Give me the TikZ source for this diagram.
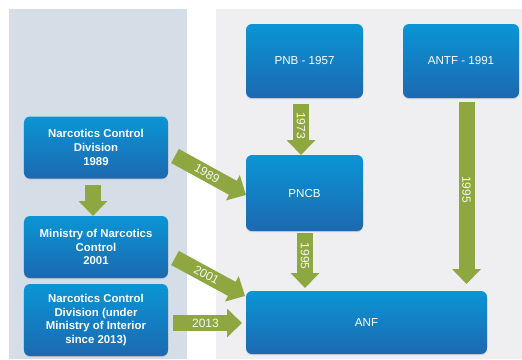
\documentclass[tikz,border=0pt]{standalone}
\usepackage{fontspec}
\setmainfont{Liberation Sans}
\usetikzlibrary{arrows.meta,shadows}
\definecolor{leftbg}{HTML}{D5DDE7}
\definecolor{rightbg}{HTML}{EFEEF1}
\definecolor{boxtop}{HTML}{0A95D5}
\definecolor{boxbot}{HTML}{1D69B0}
\definecolor{agreen}{HTML}{8FA741}
\tikzset{
  bbox/.style={rounded corners=6bp, top color=boxtop, bottom color=boxbot,
    text=white, align=center, inner sep=2bp,
    drop shadow={shadow xshift=0bp, shadow yshift=-1.2bp, opacity=0.25},
    font=\fontsize{11.6bp}{13.8bp}\selectfont},
  bboxb/.style={bbox, font=\fontsize{11.4bp}{13.8bp}\selectfont\bfseries},
  garrow/.style={draw=agreen, line width=16bp, -{Triangle[length=15bp, width=28bp]}},
  alabel/.style={text=white!92!agreen, font=\fontsize{12bp}{12bp}\selectfont, inner sep=0bp}
}
\begin{document}
\begin{tikzpicture}[x=1bp, y=-1bp]
\useasboundingbox (0,0) rectangle (522,359);
\fill[white] (0,0) rectangle (522,359);
\fill[leftbg] (9,9) rectangle (187,359);
\fill[rightbg] (216,9) rectangle (522,359);

\node[bboxb, minimum width=144bp, minimum height=62bp] (ncd) at (96,147.5) {Narcotics Control\\Division\\1989};
\node[bboxb, minimum width=144bp, minimum height=62bp] (min) at (96,247) {Ministry of Narcotics\\Control\\2001};
\node[bboxb, minimum width=144bp, minimum height=72bp] (moi) at (96,320) {Narcotics Control\\Division (under\\Ministry of Interior\\since 2013)};
\node[bbox, minimum width=117bp, minimum height=74bp] (pnb) at (304.5,61) {PNB - 1957};
\node[bbox, minimum width=116bp, minimum height=74bp] (antf) at (461,61) {ANTF - 1991};
\node[bbox, minimum width=117bp, minimum height=76bp] (pncb) at (304.5,193) {PNCB};
\node[bbox, minimum width=241bp, minimum height=63bp] (anf) at (366.5,322.5) {ANF};

\coordinate (c1a) at (93,185);
\coordinate (c1b) at (93,216);
\draw[garrow] (c1a) -- (c1b);

\coordinate (c2a) at (301,104);
\coordinate (c2b) at (301,155);
\draw[garrow] (c2a) -- node[alabel, sloped, pos=0.42] {1973} (c2b);

\coordinate (c3a) at (305,233);
\coordinate (c3b) at (305,288);
\draw[garrow] (c3a) -- node[alabel, sloped, pos=0.42] {1995} (c3b);

\coordinate (c4a) at (466.5,102);
\coordinate (c4b) at (466.5,284);
\draw[garrow] (c4a) -- node[alabel, sloped, pos=0.48] {1995} (c4b);

\coordinate (c5a) at (175,156);
\coordinate (c5b) at (246,195);
\draw[garrow] (c5a) -- node[alabel, sloped, pos=0.45] {1989} (c5b);

\coordinate (c6a) at (175,258);
\coordinate (c6b) at (245,296);
\draw[garrow] (c6a) -- node[alabel, sloped, pos=0.45] {2001} (c6b);

\coordinate (c7a) at (173,323);
\coordinate (c7b) at (242,323);
\draw[garrow] (c7a) -- node[alabel, pos=0.47] {2013} (c7b);
\end{tikzpicture}
\end{document}
